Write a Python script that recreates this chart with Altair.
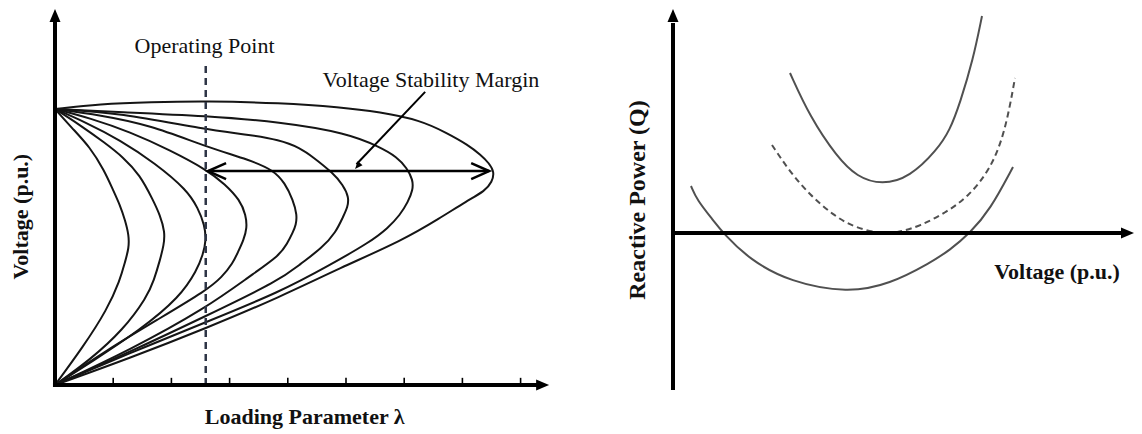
import altair as alt
import pandas as pd

SERIF = "Liberation Serif"

# ---------------- Left panel: P-V (nose) curves, x = loading parameter λ, y = voltage (p.u.) ----------------
c1_lam = [0, 0.292, 0.601, 0.842, 0.997, 1.117, 1.203, 1.27, 1.27, 1.203, 1.117, 0.893, 0.481, 0]
c1_v = [1.0, 0.931, 0.862, 0.779, 0.707, 0.652, 0.598, 0.543, 0.496, 0.446, 0.380, 0.272, 0.138, 0]

c2_lam = [0, 0.430, 0.859, 1.168, 1.460, 1.684, 1.804, 1.89, 1.87, 1.804, 1.701, 1.581, 1.168, 0.601, 0]
c2_v = [1.0, 0.942, 0.877, 0.826, 0.761, 0.670, 0.616, 0.554, 0.507, 0.453, 0.380, 0.319, 0.199, 0.091, 0]

c3_lam = [0, 0.515, 1.117, 1.718, 2.268, 2.457, 2.57, 2.60, 2.54, 2.440, 2.148, 1.460, 0.601, 0]
c3_v = [1.0, 0.953, 0.888, 0.804, 0.707, 0.641, 0.580, 0.525, 0.471, 0.417, 0.319, 0.199, 0.080, 0]

c4_lam = [0, 0.601, 1.289, 1.976, 2.612, 2.921, 3.179, 3.28, 3.30, 3.24, 3.144, 3.058, 2.869, 2.612, 1.753, 0.893, 0]
c4_v = [1.0, 0.967, 0.917, 0.851, 0.779, 0.728, 0.670, 0.616, 0.569, 0.525, 0.482, 0.442, 0.391, 0.344, 0.236, 0.127, 0]

c5_lam = [0, 0.773, 1.632, 2.612, 3.351, 3.746, 3.952, 4.089, 4.16, 4.14, 4.089, 3.986, 3.866, 3.351, 2.595, 1.289, 0]
c5_v = [1.0, 0.978, 0.942, 0.862, 0.815, 0.779, 0.732, 0.670, 0.616, 0.580, 0.554, 0.511, 0.471, 0.395, 0.279, 0.127, 0]

c6_lam = [0, 1.117, 2.612, 3.265, 3.866, 4.210, 4.433, 4.777, 4.948, 5.05, 5.03, 4.948, 4.828, 4.588, 4.210, 3.866, 2.595, 1.289, 0]
c6_v = [1.0, 0.986, 0.924, 0.909, 0.888, 0.859, 0.826, 0.768, 0.725, 0.681, 0.645, 0.609, 0.554, 0.496, 0.438, 0.380, 0.250, 0.120, 0]

c7_lam = [0, 1.117, 2.612, 3.866, 5.017, 5.584, 5.876, 6.048, 6.15, 6.15, 6.065, 5.928, 5.722, 5.412, 4.725, 3.866, 2.595, 1.289, 0]
c7_v = [1.0, 0.989, 0.975, 0.953, 0.913, 0.862, 0.826, 0.786, 0.743, 0.707, 0.663, 0.616, 0.569, 0.518, 0.435, 0.337, 0.228, 0.116, 0]

c8_lam = [0, 0.773, 1.632, 2.612, 3.866, 4.897, 5.584, 6.271, 6.735, 7.096, 7.320, 7.457, 7.55, 7.51, 7.388, 7.079, 6.615, 5.979, 4.897, 3.866, 2.612, 1.289, 0]
c8_v = [1.0, 1.018, 1.025, 1.029, 1.022, 1.007, 0.989, 0.960, 0.913, 0.870, 0.833, 0.804, 0.772, 0.736, 0.703, 0.667, 0.605, 0.525, 0.424, 0.319, 0.207, 0.098, 0]

lam_ticks = [1, 2, 3, 4, 5, 6, 7, 8]
operating_lam = 2.59
operating_top_v = 1.17
margin_v = 0.775
margin_lam = [2.63, 7.46]
pointer_lam = [6.36, 5.18]
pointer_v = [1.062, 0.80]
pointer_tip = [5.155, 0.783]
left_axis_end = [8.40, 1.335]
left_axis_tip = [8.49, 1.362]

left_labels = ["Operating Point", "Voltage Stability Margin"]
left_label_lam = [2.57, 6.46]
left_label_v = [1.230, 1.105]
left_xtitle = "Loading Parameter λ"
left_ytitle = "Voltage (p.u.)"
left_xtitle_pos = [4.29, -0.116]
left_ytitle_pos = [-0.589, 0.610]

LAM_DOMAIN = [-0.8076, 8.677]
V_DOMAIN = [-0.1485, 1.366]

# ---------------- Right panel: Q-V curves, x = voltage (p.u.), y = reactive power Q ----------------
qv_top_v = [0.585, 0.685, 0.82, 0.92, 1.045, 1.185, 1.32, 1.385, 1.435, 1.50, 1.545]
qv_top_q = [1.60, 1.16, 0.76, 0.56, 0.48, 0.56, 0.83, 1.03, 1.30, 1.73, 2.17]

qv_mid_v = [0.495, 0.585, 0.685, 0.80, 0.91, 1.05, 1.135, 1.235, 1.36, 1.475, 1.585, 1.66, 1.71]
qv_mid_q = [0.88, 0.61, 0.38, 0.18, 0.05, -0.01, 0.01, 0.07, 0.20, 0.36, 0.63, 1.00, 1.55]

qv_low_v = [0.09, 0.12, 0.20, 0.25, 0.385, 0.585, 0.875, 1.085, 1.285, 1.385, 1.485, 1.585, 1.70]
qv_low_q = [0.47, 0.33, 0.13, 0.0, -0.27, -0.49, -0.60, -0.51, -0.30, -0.17, 0.0, 0.23, 0.66]

right_axis_y = [-1.57, 2.10]
right_axis_x_end = 2.26
right_tip = [2.305, 2.24]
right_xtitle = "Voltage (p.u.)"
right_ytitle = "Reactive Power (Q)"
right_xtitle_pos = [1.92, -0.39]
right_ytitle_pos = [-0.1775, 0.33]

VR_DOMAIN = [-0.565, 2.305]
Q_DOMAIN = [-1.93, 2.25]

UP_ARROW = "M0,0L-0.55,1.3L0.55,1.3Z"
RIGHT_ARROW = "M0,0L-1.3,-0.55L-1.3,0.55Z"
RIGHT_CHEVRON = "M-1.8,-0.8L0,0L-1.8,0.8"
LEFT_CHEVRON = "M1.8,-0.8L0,0L1.8,0.8"
SMALL_HEAD = "M0,0L-0.45,1.1L0.45,1.1Z"


def curves_df(items):
    frames = []
    for name, xs, ys in items:
        frames.append(pd.DataFrame({"x": xs, "y": ys, "i": list(range(len(xs))), "curve": name}))
    return pd.concat(frames, ignore_index=True)


def enc(domx, domy):
    return dict(
        x=alt.X("x:Q", scale=alt.Scale(domain=domx, nice=False, zero=False), axis=None),
        y=alt.Y("y:Q", scale=alt.Scale(domain=domy, nice=False, zero=False), axis=None),
    )


LX = lambda: enc(LAM_DOMAIN, V_DOMAIN)
RX = lambda: enc(VR_DOMAIN, Q_DOMAIN)

# ----- left layers -----
pv_df = curves_df([
    ("1", c1_lam, c1_v), ("2", c2_lam, c2_v), ("3", c3_lam, c3_v), ("4", c4_lam, c4_v),
    ("5", c5_lam, c5_v), ("6", c6_lam, c6_v), ("7", c7_lam, c7_v), ("8", c8_lam, c8_v),
])
pv_lines = alt.Chart(pv_df).mark_line(interpolate="basis", color="#151515", strokeWidth=2).encode(
    **LX(), detail="curve:N", order="i:Q")

l_axes_df = pd.DataFrame({"x": [0, -0.035], "y": [-0.007, 0], "x2": [0, left_axis_end[0]], "y2": [left_axis_end[1], 0]})
l_axes = alt.Chart(l_axes_df).mark_rule(color="black", strokeWidth=4).encode(**LX(), x2="x2:Q", y2="y2:Q")

l_heads = alt.layer(
    alt.Chart(pd.DataFrame({"x": [0], "y": [left_axis_tip[1]]})).mark_point(
        shape=UP_ARROW, size=400, filled=True, color="black", opacity=1).encode(**LX()),
    alt.Chart(pd.DataFrame({"x": [left_axis_tip[0]], "y": [0]})).mark_point(
        shape=RIGHT_ARROW, size=400, filled=True, color="black", opacity=1).encode(**LX()),
)

ticks_df = pd.DataFrame({"x": lam_ticks, "y": [0] * len(lam_ticks), "y2": [0.026] * len(lam_ticks)})
l_ticks = alt.Chart(ticks_df).mark_rule(color="black", strokeWidth=1.6).encode(**LX(), y2="y2:Q")

op_df = pd.DataFrame({"x": [operating_lam], "y": [0], "y2": [operating_top_v]})
op_line = alt.Chart(op_df).mark_rule(color="#2e3546", strokeWidth=2.5, strokeDash=[7, 5]).encode(**LX(), y2="y2:Q")

m_df = pd.DataFrame({"x": [margin_lam[0]], "x2": [margin_lam[1]], "y": [margin_v]})
m_line = alt.Chart(m_df).mark_rule(color="black", strokeWidth=2.5).encode(**LX(), x2="x2:Q")
m_heads = alt.layer(
    alt.Chart(pd.DataFrame({"x": [margin_lam[1]], "y": [margin_v]})).mark_point(
        shape=RIGHT_CHEVRON, size=400, filled=False, color="black", strokeWidth=2.5, opacity=1).encode(**LX()),
    alt.Chart(pd.DataFrame({"x": [margin_lam[0]], "y": [margin_v]})).mark_point(
        shape=LEFT_CHEVRON, size=400, filled=False, color="black", strokeWidth=2.5, opacity=1).encode(**LX()),
)

p_df = pd.DataFrame({"x": [pointer_lam[0]], "y": [pointer_v[0]], "x2": [pointer_lam[1]], "y2": [pointer_v[1]]})
p_line = alt.Chart(p_df).mark_rule(color="black", strokeWidth=2).encode(**LX(), x2="x2:Q", y2="y2:Q")
p_head = alt.Chart(pd.DataFrame({"x": [pointer_tip[0]], "y": [pointer_tip[1]]})).mark_point(
    shape=SMALL_HEAD, size=196, filled=True, color="black", angle=222, opacity=1).encode(**LX())

l_text_df = pd.DataFrame({"x": left_label_lam, "y": left_label_v, "t": left_labels})
l_text = alt.Chart(l_text_df).mark_text(font=SERIF, fontSize=22, color="#111", baseline="middle").encode(
    **LX(), text="t:N")
l_xt = alt.Chart(pd.DataFrame({"x": [left_xtitle_pos[0]], "y": [left_xtitle_pos[1]], "t": [left_xtitle]})).mark_text(
    font=SERIF, fontSize=22, fontWeight="bold", color="#111", baseline="middle").encode(**LX(), text="t:N")
l_yt = alt.Chart(pd.DataFrame({"x": [left_ytitle_pos[0]], "y": [left_ytitle_pos[1]], "t": [left_ytitle]})).mark_text(
    font=SERIF, fontSize=22, fontWeight="bold", color="#111", baseline="middle", angle=270).encode(**LX(), text="t:N")

left = alt.layer(pv_lines, op_line, l_ticks, l_axes, l_heads, m_line, m_heads, p_line, p_head,
                 l_text, l_xt, l_yt).properties(width=552, height=418)

# ----- right layers -----
qv_solid = curves_df([("top", qv_top_v, qv_top_q), ("low", qv_low_v, qv_low_q)])
qv_lines = alt.Chart(qv_solid).mark_line(interpolate="basis", color="#505050", strokeWidth=2).encode(
    **RX(), detail="curve:N", order="i:Q")
qv_dash = alt.Chart(curves_df([("mid", qv_mid_v, qv_mid_q)])).mark_line(
    interpolate="basis", color="#505050", strokeWidth=2, strokeDash=[6, 4]).encode(
    **RX(), detail="curve:N", order="i:Q")

r_axes_df = pd.DataFrame({"x": [0, 0], "y": [right_axis_y[0], 0], "x2": [0, right_axis_x_end], "y2": [right_axis_y[1], 0]})
r_axes = alt.Chart(r_axes_df).mark_rule(color="black", strokeWidth=4).encode(**RX(), x2="x2:Q", y2="y2:Q")
r_heads = alt.layer(
    alt.Chart(pd.DataFrame({"x": [0], "y": [right_tip[1]]})).mark_point(
        shape=UP_ARROW, size=400, filled=True, color="black", opacity=1).encode(**RX()),
    alt.Chart(pd.DataFrame({"x": [right_tip[0]], "y": [0]})).mark_point(
        shape=RIGHT_ARROW, size=400, filled=True, color="black", opacity=1).encode(**RX()),
)
r_xt = alt.Chart(pd.DataFrame({"x": [right_xtitle_pos[0]], "y": [right_xtitle_pos[1]], "t": [right_xtitle]})).mark_text(
    font=SERIF, fontSize=22, fontWeight="bold", color="#111", baseline="middle").encode(**RX(), text="t:N")
r_yt = alt.Chart(pd.DataFrame({"x": [right_ytitle_pos[0]], "y": [right_ytitle_pos[1]], "t": [right_ytitle]})).mark_text(
    font=SERIF, fontSize=24, fontWeight="bold", color="#111", baseline="middle", angle=270).encode(**RX(), text="t:N")

right = alt.layer(qv_dash, qv_lines, r_axes, r_heads, r_xt, r_yt).properties(width=574, height=418)

chart = alt.hconcat(left, right, spacing=0).properties(padding=0).configure_view(stroke=None)

chart.save("out.html", embed_options={"renderer": "svg", "actions": False})
